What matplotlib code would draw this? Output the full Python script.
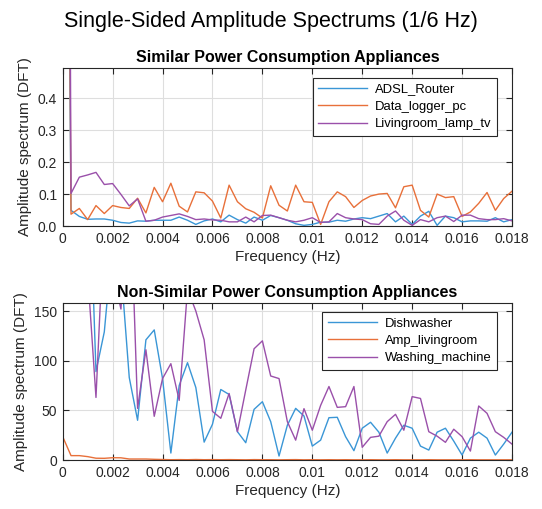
import numpy as np
import matplotlib
matplotlib.use("Agg")
import matplotlib.pyplot as plt

plt.rcParams['font.family'] = ['Liberation Sans', 'DejaVu Sans']

# ---------------- data ----------------
fs = 1 / 6          # sampling rate (Hz)
n_fft = 500         # FFT length
n_bins = 55         # bins shown (0 .. 0.018 Hz)
freq = fs * np.arange(n_bins) / n_fft

xticks = [0, 0.002, 0.004, 0.006, 0.008, 0.010, 0.012, 0.014, 0.016, 0.018]
xtick_labels = ["0", "0.002", "0.004", "0.006", "0.008", "0.01", "0.012", "0.014", "0.016", "0.018"]

# Similar power consumption appliances
adsl_router = [3.0, 0.049, 0.030, 0.021, 0.022, 0.022, 0.018, 0.011, 0.009, 0.016,
               0.015, 0.018, 0.018, 0.018, 0.028, 0.018, 0.005, 0.016, 0.022, 0.013,
               0.034, 0.020, 0.009, 0.028, 0.018, 0.033, 0.026, 0.018, 0.007, 0.002,
               0.005, 0.012, 0.012, 0.018, 0.015, 0.022, 0.026, 0.023, 0.031, 0.039,
               0.013, 0.031, 0.005, 0.031, 0.046, 0.002, 0.031, 0.026, 0.013, 0.016,
               0.016, 0.015, 0.026, 0.013, 0.020]
data_logger_pc = [4.0, 0.037, 0.055, 0.020, 0.064, 0.039, 0.064, 0.058, 0.055, 0.087,
                  0.041, 0.121, 0.076, 0.134, 0.062, 0.044, 0.107, 0.104, 0.078, 0.025,
                  0.128, 0.076, 0.054, 0.043, 0.025, 0.126, 0.065, 0.047, 0.128, 0.076,
                  0.074, 0.005, 0.076, 0.107, 0.092, 0.058, 0.080, 0.094, 0.100, 0.102,
                  0.057, 0.123, 0.128, 0.049, 0.028, 0.100, 0.089, 0.092, 0.030, 0.044,
                  0.071, 0.105, 0.049, 0.086, 0.109]
livingroom_lamp_tv = [6.0, 0.102, 0.153, 0.160, 0.168, 0.130, 0.133, 0.099, 0.063, 0.085,
                      0.015, 0.018, 0.028, 0.033, 0.038, 0.030, 0.020, 0.022, 0.019, 0.018,
                      0.013, 0.013, 0.028, 0.013, 0.033, 0.034, 0.026, 0.018, 0.013, 0.018,
                      0.026, 0.011, 0.013, 0.039, 0.026, 0.022, 0.020, 0.007, 0.005, 0.031,
                      0.047, 0.018, 0.002, 0.020, 0.013, 0.026, 0.031, 0.014, 0.034, 0.034,
                      0.023, 0.020, 0.020, 0.023, 0.016]

# Non-similar power consumption appliances
dishwasher = [450, 260, 210, 336, 89, 129, 220, 193, 83, 40,
              121, 131, 82, 7, 75, 98, 73, 18, 36, 71,
              66, 28.5, 17.4, 51, 58.7, 38.6, 4, 35, 52, 44.3,
              14, 20, 42.6, 43, 23.5, 9.4, 32, 38, 28, 7,
              22, 35, 32, 14, 10, 28, 32, 19, 5, 22,
              28, 22, 5, 16, 28]
amp_livingroom = [23.5, 4.4, 4.4, 3.4, 1.8, 1.7, 2.3, 2.2, 1.0, 1.0,
                  1.0, 0.7, 0.5, 0.3, 0.4, 0.3, 0.5, 0.3, 0.4, 0.3,
                  0.4, 0.3, 0.2, 0.4, 0.3, 0.3, 0.2, 0.3, 0.4, 0.2,
                  0.3, 0.2, 0.3, 0.2, 0.3, 0.2, 0.2, 0.3, 0.2, 0.2,
                  0.3, 0.2, 0.2, 0.2, 0.3, 0.2, 0.2, 0.2, 0.2, 0.3,
                  0.2, 0.2, 0.2, 0.2, 0.2]
washing_machine = [400, 300, 250, 188, 63, 246, 189, 152, 300, 52,
                   111, 44, 82, 97, 60, 172, 150, 121, 49, 42,
                   67, 28.5, 70.5, 112, 120, 84.6, 82, 38.6, 20, 51.7,
                   30, 55, 74, 53, 53.7, 74, 12.8, 22.8, 24, 38.6,
                   46, 30, 63.8, 62, 28.5, 24, 17.8, 31, 23.5, 9,
                   54.4, 47, 28.5, 22.8, 16]

top_series = [("ADSL_Router", adsl_router), ("Data_logger_pc", data_logger_pc),
              ("Livingroom_lamp_tv", livingroom_lamp_tv)]
bottom_series = [("Dishwasher", dishwasher), ("Amp_livingroom", amp_livingroom),
                 ("Washing_machine", washing_machine)]

colors = ["#3A96D6", "#E8703A", "#9A50AA"]
axis_color = "#262626"

# ---------------- figure ----------------
W, H = 542, 509
fig = plt.figure(figsize=(W / 100, H / 100), dpi=100)

def px_axes(left, top, right, bottom):
    return fig.add_axes([left / W, (H - bottom) / H, (right - left) / W, (bottom - top) / H])

ax1 = px_axes(62.7, 68, 512, 226)
ax2 = px_axes(62.7, 302.7, 512, 460)

def style(ax, title, ylim, yticks, series, legend_top):
    for (name, vals), c in zip(series, colors):
        ax.plot(freq, vals, color=c, lw=1.0, label=name)
    ax.set_xlim(0, 0.018)
    ax.set_ylim(*ylim)
    ax.set_xticks(xticks)
    ax.set_xticklabels(xtick_labels)
    ax.set_yticks(yticks)
    ax.grid(True, color="#dedede", lw=0.8)
    ax.set_axisbelow(True)
    for s in ax.spines.values():
        s.set_color(axis_color)
        s.set_linewidth(0.8)
    ax.tick_params(direction="in", top=True, right=True, length=4, width=0.8,
                   colors=axis_color, labelsize=10, pad=4)
    ax.set_title(title, fontsize=11.5, fontweight="bold", color="black", pad=4)
    ax.set_xlabel("Frequency (Hz)", fontsize=11, color=axis_color, labelpad=3)
    ax.set_ylabel("Amplitude spectrum (DFT)", fontsize=11, color=axis_color, labelpad=4)
    leg = ax.legend(loc="upper right", bbox_to_anchor=(0.9666, legend_top),
                    borderaxespad=0, fontsize=9.4, handlelength=3.75,
                    labelspacing=0.4, fancybox=False, framealpha=1,
                    edgecolor=axis_color, borderpad=0.42, handletextpad=0.6)
    leg.get_frame().set_linewidth(0.8)

style(ax1, "Similar Power Consumption Appliances", (0, 0.495),
      [0, 0.1, 0.2, 0.3, 0.4], top_series, 0.937)
style(ax2, "Non-Similar Power Consumption Appliances", (0, 158.4),
      [0, 50, 100, 150], bottom_series, 0.941)

fig.text(0.5, 1 - 22 / H, "Single-Sided Amplitude Spectrums (1/6 Hz)",
         ha="center", va="center", fontsize=15.5, color="black")

fig.savefig("out.png", dpi=100)
